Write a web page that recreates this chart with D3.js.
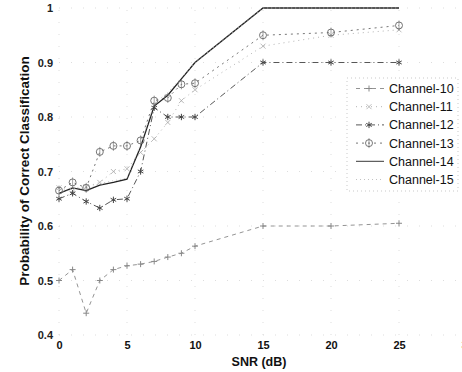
<!DOCTYPE html>
<html><head><meta charset="utf-8">
<script src="https://cdn.jsdelivr.net/npm/d3@7"></script>
<style>body{margin:0;background:#fff}svg{display:block}</style>
</head><body>
<svg id="c" width="462" height="372"></svg>
<script>
const snr = [0,1,2,3,4,5,6,7,8,9,10,15,20,25];
const channels = ["Channel-10","Channel-11","Channel-12","Channel-13","Channel-14","Channel-15"];
const ch10 = [0.50,0.52,0.44,0.50,0.52,0.527,0.53,0.535,0.543,0.55,0.563,0.60,0.60,0.605];
const ch11 = [0.67,0.665,0.672,0.68,0.70,0.705,0.735,0.76,0.79,0.83,0.85,0.93,0.95,0.96];
const ch12 = [0.65,0.66,0.645,0.633,0.648,0.65,0.70,0.817,0.80,0.80,0.80,0.90,0.90,0.90];
const ch13 = [0.665,0.68,0.67,0.736,0.747,0.747,0.757,0.83,0.835,0.86,0.862,0.95,0.955,0.968];
const ch14 = [0.66,0.67,0.665,0.675,0.68,0.686,0.745,0.82,0.84,0.87,0.90,1.0,1.0,1.0];
const ch15 = [0.66,0.672,0.668,0.678,0.683,0.688,0.75,0.825,0.845,0.872,0.90,1.0,1.0,1.0];
const xTicks = [0,5,10,15,20,25,30];
const yTicks = [0.4,0.5,0.6,0.7,0.8,0.9,1];

const series = [ch10,ch11,ch12,ch13,ch14,ch15];
const dashes = ["4,4","1,4","6,3,1,3","2,4","none","1,3"];
const markers = ["plus","cross","dot","circle","none","none"];
const inks = ["#888","#aaa","#444","#666","#222","#bbb"];
const font = "Liberation Sans, Arial, sans-serif";

const svg = d3.select("#c");
const x = d3.scaleLinear().domain([0,30]).range([59,467]);
const y = d3.scaleLinear().domain([0.4,1]).range([335,8]);

// faint dotted grid
const g = svg.append("g");
g.selectAll(".gx").data(xTicks).join("line")
  .attr("x1",d=>x(d)).attr("x2",d=>x(d)).attr("y1",y(0.4)).attr("y2",y(1))
  .attr("stroke","#d4d4d4").attr("stroke-width",0.8).attr("stroke-dasharray","1,11");
g.selectAll(".gy").data(yTicks).join("line")
  .attr("y1",d=>y(d)).attr("y2",d=>y(d)).attr("x1",x(0)).attr("x2",x(30))
  .attr("stroke","#d4d4d4").attr("stroke-width",0.8).attr("stroke-dasharray","1,11");

// axes (labels only, lines faded out)
const xa = svg.append("g").attr("transform",`translate(0,${y(0.4)})`)
  .call(d3.axisBottom(x).tickValues(xTicks).tickSize(0).tickPadding(6).tickFormat(d3.format("d")));
xa.select(".domain").remove();
xa.selectAll("text").attr("font-family",font)
  .attr("font-size",11).attr("font-weight","bold").attr("fill","#111");
const ya = svg.append("g").attr("transform",`translate(${x(0)},0)`)
  .call(d3.axisLeft(y).tickValues(yTicks).tickSize(0).tickPadding(6).tickFormat(d=>d===1?"1":d3.format(".1f")(d)));
ya.select(".domain").remove();
ya.selectAll("text").attr("font-family",font)
  .attr("font-size",11).attr("font-weight","bold").attr("fill","#222");

// lines
const line = d3.line().x((d,i)=>x(snr[i])).y(d=>y(d));
series.forEach((s,k)=>{
  svg.append("path").datum(s).attr("d",line).attr("fill","none")
    .attr("stroke",inks[k]).attr("stroke-width",k===4?1.3:0.9)
    .attr("stroke-dasharray",dashes[k]==="none"?null:dashes[k]);
});

function drawMarker(sel,type,cx,cy,col){
  if(type==="plus"){
    sel.append("path").attr("d",`M${cx-3},${cy}H${cx+3}M${cx},${cy-3}V${cy+3}`).attr("stroke",col).attr("stroke-width",1);
  } else if(type==="cross"){
    sel.append("path").attr("d",`M${cx-2.5},${cy-2.5}L${cx+2.5},${cy+2.5}M${cx-2.5},${cy+2.5}L${cx+2.5},${cy-2.5}`).attr("stroke",col).attr("stroke-width",0.8);
  } else if(type==="dot"){
    sel.append("path").attr("d",d3.symbol(d3.symbolAsterisk,28)()).attr("transform",`translate(${cx},${cy})`).attr("stroke",col).attr("stroke-width",1).attr("fill","none");
  } else if(type==="circle"){
    sel.append("circle").attr("cx",cx).attr("cy",cy).attr("r",3.5).attr("fill","none").attr("stroke",col).attr("stroke-width",0.9);
    sel.append("path").attr("d",`M${cx},${cy-5}V${cy+5}`).attr("stroke",col).attr("stroke-width",0.6);
  }
}
series.forEach((s,k)=>{
  if(markers[k]==="none") return;
  const mg = svg.append("g");
  s.forEach((v,i)=>drawMarker(mg,markers[k],x(snr[i]),y(v),inks[k]));
});

// legend
const lg = svg.append("g");
lg.append("rect").attr("x",347).attr("y",78).attr("width",111).attr("height",113)
  .attr("fill","#fff").attr("stroke","#bbb").attr("stroke-width",0.8).attr("stroke-dasharray","1,3");
channels.forEach((c,k)=>{
  const ly = 88.5 + k*18.2;
  lg.append("line").attr("x1",356).attr("x2",384).attr("y1",ly).attr("y2",ly)
    .attr("stroke",inks[k]).attr("stroke-width",0.9)
    .attr("stroke-dasharray",dashes[k]==="none"?null:dashes[k]);
  if(markers[k]!=="none") drawMarker(lg,markers[k],369,ly,inks[k]);
  lg.append("text").attr("x",389).attr("y",ly+4.5).text(c)
    .attr("font-family",font).attr("font-size",12.5).attr("fill","#111");
});

// axis titles
svg.append("text").attr("x",259).attr("y",366).attr("text-anchor","middle")
  .attr("font-family",font).attr("font-size",12.5).attr("font-weight","bold")
  .attr("fill","#111").text("SNR (dB)");
svg.append("text").attr("transform","translate(29,171) rotate(-90)").attr("text-anchor","middle")
  .attr("font-family",font).attr("font-size",13.5).attr("font-weight","bold")
  .attr("fill","#111").text("Probability of Correct Classification");
</script>
</body></html>
